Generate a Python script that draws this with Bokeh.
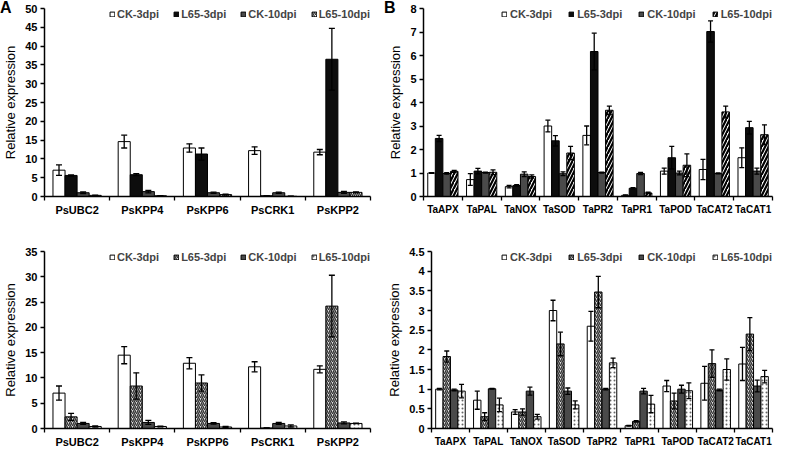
import numpy as np
from bokeh.plotting import figure
from bokeh.models import (ColumnDataSource, Whisker, TeeHead, Legend, LegendItem,
                          FixedTicker, Range1d, NumeralTickFormatter, Div)
from bokeh.layouts import column, row
from bokeh.embed import file_html
from bokeh.resources import INLINE

# ---------------- data ----------------
series_names = ["CK-3dpi", "L65-3dpi", "CK-10dpi", "L65-10dpi"]

genes_ps = ["PsUBC2", "PsKPP4", "PsKPP6", "PsCRK1", "PsKPP2"]
genes_ta = ["TaAPX", "TaPAL", "TaNOX", "TaSOD", "TaPR2", "TaPR1", "TaPOD", "TaCAT2", "TaCAT1"]

# Panel A (top)
a1_ck3 = [7.0, 14.6, 12.9, 12.2, 11.8]
a1_ck3_err = [1.4, 1.7, 1.1, 1.0, 0.7]
a1_l653 = [5.6, 5.8, 11.3, 0.2, 36.5]
a1_l653_err = [0.15, 0.25, 1.6, 0.05, 8.2]
a1_ck10 = [1.0, 1.3, 1.0, 1.0, 1.1]
a1_ck10_err = [0.2, 0.35, 0.15, 0.15, 0.25]
a1_l6510 = [0.3, 0.2, 0.5, 0.05, 1.1]
a1_l6510_err = [0.05, 0.05, 0.1, 0.02, 0.15]
a1_yticks = [0, 5, 10, 15, 20, 25, 30, 35, 40, 45, 50]

# Panel A (bottom)
a2_ck3 = [7.0, 14.5, 12.9, 12.2, 11.7]
a2_ck3_err = [1.4, 1.7, 1.1, 1.0, 0.7]
a2_l653 = [2.3, 8.4, 9.0, 0.1, 24.2]
a2_l653_err = [0.7, 2.6, 1.6, 0.02, 6.1]
a2_ck10 = [1.0, 1.2, 1.0, 1.0, 1.1]
a2_ck10_err = [0.2, 0.4, 0.15, 0.2, 0.2]
a2_l6510 = [0.4, 0.4, 0.3, 0.5, 1.0]
a2_l6510_err = [0.1, 0.05, 0.1, 0.2, 0.05]
a2_yticks = [0, 5, 10, 15, 20, 25, 30, 35]

# Panel B (top)
b1_ck3 = [1.0, 0.72, 0.42, 3.0, 2.6, 0.05, 1.08, 1.15, 1.65]
b1_ck3_err = [0.02, 0.25, 0.05, 0.25, 0.4, 0.02, 0.13, 0.43, 0.42]
b1_l653 = [2.47, 1.08, 0.47, 2.37, 6.17, 0.35, 1.65, 7.02, 2.93]
b1_l653_err = [0.13, 0.12, 0.03, 0.22, 0.78, 0.03, 0.48, 0.45, 0.27]
b1_ck10 = [0.98, 1.02, 0.95, 0.97, 1.02, 0.98, 1.0, 0.98, 1.08]
b1_ck10_err = [0.03, 0.02, 0.1, 0.08, 0.02, 0.05, 0.08, 0.02, 0.13]
b1_l6510 = [1.07, 1.03, 0.85, 1.85, 3.67, 0.15, 1.33, 3.6, 2.63]
b1_l6510_err = [0.04, 0.1, 0.07, 0.28, 0.18, 0.03, 0.48, 0.25, 0.42]
b1_yticks = [0, 1, 2, 3, 4, 5, 6, 7, 8]

# Panel B (bottom)
b2_ck3 = [1.0, 0.72, 0.42, 3.0, 2.6, 0.07, 1.08, 1.15, 1.64]
b2_ck3_err = [0.02, 0.23, 0.06, 0.26, 0.38, 0.01, 0.14, 0.43, 0.42]
b2_l653 = [1.83, 0.3, 0.42, 2.15, 3.47, 0.18, 0.7, 1.65, 2.4]
b2_l653_err = [0.14, 0.1, 0.08, 0.3, 0.4, 0.02, 0.2, 0.35, 0.42]
b2_ck10 = [0.98, 1.01, 0.95, 0.95, 1.0, 0.95, 1.0, 0.98, 1.08]
b2_ck10_err = [0.02, 0.01, 0.1, 0.08, 0.02, 0.07, 0.1, 0.02, 0.15]
b2_l6510 = [0.95, 0.6, 0.3, 0.6, 1.67, 0.62, 0.96, 1.5, 1.32]
b2_l6510_err = [0.17, 0.17, 0.06, 0.1, 0.12, 0.22, 0.2, 0.27, 0.16]
b2_yticks = [0, 0.5, 1, 1.5, 2, 2.5, 3, 3.5, 4, 4.5]

panel_letters = ["A", "B"]

FONT = "Liberation Sans"

WHITE = dict(fill_color="white")
BLACK = dict(fill_color="#0d0d0d")
DGRAY = dict(fill_color="#4a4a4a")
HATCH_THIN = dict(fill_color="white", hatch_pattern="/", hatch_color="#333333",
                  hatch_scale=4, hatch_weight=1.3)
HATCH_THICK = dict(fill_color="white", hatch_pattern="/", hatch_color="#000000",
                   hatch_scale=7, hatch_weight=2.2)
HATCH_GRAY = dict(fill_color="#e0e0e0", hatch_pattern="/", hatch_color="#333333",
                  hatch_scale=4, hatch_weight=1.4)
DOTS = dict(fill_color="white", hatch_pattern=".", hatch_color="#666666",
            hatch_scale=4, hatch_weight=1.2)


def panel(genes, series, errors, styles, yticks, w, h, borders, bar_w,
          head, legend_spacing, legend_standoff, xfont):
    left, right, top, bottom = borders
    n = len(genes)
    p = figure(width=w, height=h, x_range=Range1d(0, n),
               y_range=Range1d(0, yticks[-1]), output_backend="svg",
               toolbar_location=None, min_border_left=left,
               min_border_right=right, min_border_top=top,
               min_border_bottom=bottom)
    p.xgrid.visible = False
    p.ygrid.visible = False
    p.outline_line_color = None
    p.background_fill_color = None
    p.border_fill_color = None

    centers = np.arange(n) + 0.5
    items = []
    for k, (vals, errs, st, name) in enumerate(zip(series, errors, styles, series_names)):
        vals = np.array(vals, dtype=float)
        errs = np.array(errs, dtype=float)
        src = ColumnDataSource(dict(x=centers + (k - 1.5) * bar_w, top=vals,
                                    upper=vals + errs,
                                    lower=np.maximum(vals - errs, 0)))
        r = p.vbar(x="x", top="top", bottom=0, width=bar_w, source=src,
                   line_color="black", line_width=1, **st)
        wk = Whisker(source=src, base="x", upper="upper", lower="lower",
                     line_width=1.3, line_color="black", level="annotation",
                     upper_head=TeeHead(size=head, line_width=1.3, line_color="black"),
                     lower_head=TeeHead(size=head, line_width=1.3, line_color="black"))
        p.add_layout(wk)
        items.append(LegendItem(label=name, renderers=[r]))

    xa = p.xaxis[0]
    xa.ticker = FixedTicker(ticks=list(centers), minor_ticks=list(np.arange(n + 1)))
    xa.major_label_overrides = {float(c): g for c, g in zip(centers, genes)}
    xa.major_tick_line_color = None
    xa.major_tick_out = 0
    xa.major_tick_in = 0
    xa.minor_tick_line_color = "black"
    xa.minor_tick_out = 4
    xa.minor_tick_in = 0
    xa.minor_tick_line_width = 1.3
    xa.major_label_standoff = 3
    xa.axis_line_color = "black"
    xa.axis_line_width = 1.5
    xa.major_label_text_font = FONT
    xa.major_label_text_font_style = "bold"
    xa.major_label_text_font_size = xfont
    xa.major_label_text_color = "black"

    ya = p.yaxis[0]
    ya.ticker = FixedTicker(ticks=yticks)
    ya.formatter = NumeralTickFormatter(format="0.[0]")
    ya.minor_tick_line_color = None
    ya.major_tick_out = 4
    ya.major_tick_in = 0
    ya.major_tick_line_width = 1.3
    ya.major_label_standoff = 3
    ya.axis_line_color = "black"
    ya.axis_line_width = 1.5
    ya.major_label_text_font = FONT
    ya.major_label_text_font_style = "bold"
    ya.major_label_text_font_size = "11px"
    ya.major_label_text_color = "black"
    ya.axis_label = "Relative expression"
    ya.axis_label_text_font = FONT
    ya.axis_label_text_font_style = "normal"
    ya.axis_label_text_font_size = "13px"
    ya.axis_label_text_color = "black"
    ya.axis_label_standoff = 4

    legend = Legend(items=items, location="top_right", orientation="horizontal",
                    glyph_width=6, glyph_height=6, label_standoff=legend_standoff,
                    spacing=legend_spacing, padding=0, margin=0,
                    border_line_color=None, background_fill_alpha=0,
                    label_text_font=FONT, label_text_font_style="bold",
                    label_text_font_size="11px", label_height=12)
    p.add_layout(legend)
    return p


def letter_div(letter):
    return Div(text=letter, width=16, height=18, margin=(0, 0, -18, 0),
               styles={"font-family": FONT, "font-weight": "bold",
                       "font-size": "16px", "line-height": "16px",
                       "color": "black"})


pA = panel(genes_ps,
           [a1_ck3, a1_l653, a1_ck10, a1_l6510],
           [a1_ck3_err, a1_l653_err, a1_ck10_err, a1_l6510_err],
           [WHITE, BLACK, DGRAY, HATCH_THIN], a1_yticks,
           384, 222, (36, 14, 8, 26), 0.185, 6, 14, 2, "11px")
pB = panel(genes_ta,
           [b1_ck3, b1_l653, b1_ck10, b1_l6510],
           [b1_ck3_err, b1_l653_err, b1_ck10_err, b1_l6510_err],
           [WHITE, BLACK, DGRAY, HATCH_THICK], b1_yticks,
           392, 222, (39, 4, 8, 26), 0.195, 5, 16, 3, "10px")
pC = panel(genes_ps,
           [a2_ck3, a2_l653, a2_ck10, a2_l6510],
           [a2_ck3_err, a2_l653_err, a2_ck10_err, a2_l6510_err],
           [WHITE, HATCH_GRAY, DGRAY, DOTS], a2_yticks,
           384, 228, (36, 14, 27, 19), 0.185, 6, 14, 2, "11px")
pD = panel(genes_ta,
           [b2_ck3, b2_l653, b2_ck10, b2_l6510],
           [b2_ck3_err, b2_l653_err, b2_ck10_err, b2_l6510_err],
           [WHITE, HATCH_GRAY, DGRAY, DOTS], b2_yticks,
           392, 228, (39, 4, 29, 19), 0.195, 5, 16, 3, "10px")

colA = column(letter_div(panel_letters[0]), pA, spacing=0)
colB = column(letter_div(panel_letters[1]), pB, spacing=0)
layout = column(row(colA, colB), row(pC, pD))
open("out.html", "w").write(file_html(layout, INLINE))
